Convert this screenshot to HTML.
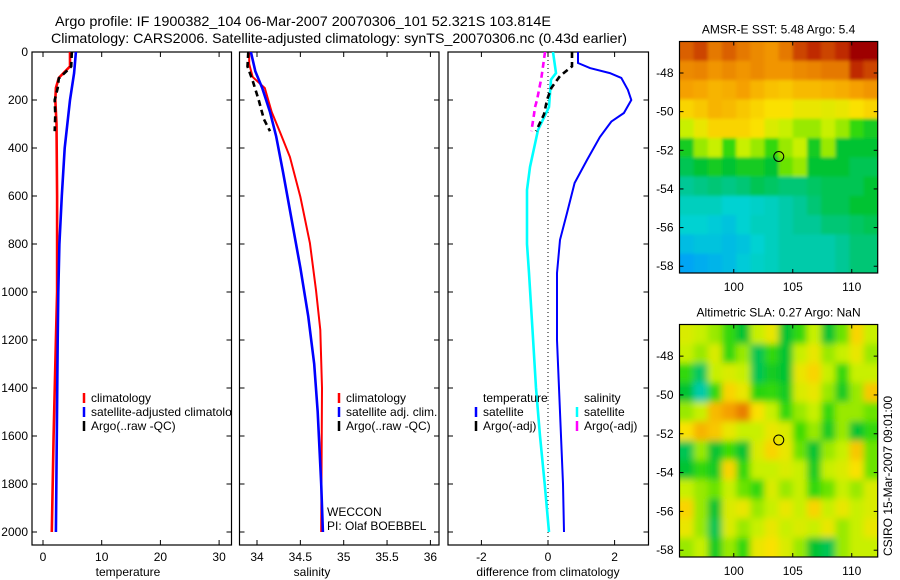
<!DOCTYPE html>
<html><head><meta charset="utf-8"><style>
body{margin:0;background:#fff}
svg{display:block;font-family:"Liberation Sans",Arial,sans-serif}
text{fill:#000}
</style></head><body>
<svg id="fig" width="900" height="580" viewBox="0 0 900 580" xmlns="http://www.w3.org/2000/svg">
<text x="55" y="26" font-size="14" textLength="496" lengthAdjust="spacingAndGlyphs">Argo profile: IF 1900382_104 06-Mar-2007 20070306_101 52.321S 103.814E</text>
<text x="51" y="43" font-size="14" textLength="576" lengthAdjust="spacingAndGlyphs">Climatology: CARS2006. Satellite-adjusted climatology: synTS_20070306.nc (0.43d earlier)</text>
<g id="panels"></g>
<defs>
<clipPath id="cp1"><rect x="32" y="52" width="199.5" height="493"/></clipPath>
<clipPath id="cp2"><rect x="239.5" y="52" width="199.5" height="493"/></clipPath>
<clipPath id="cp3"><rect x="448" y="52" width="200.5" height="493"/></clipPath>
<filter id="blur2" filterUnits="userSpaceOnUse" x="600" y="300" width="300" height="280"><feGaussianBlur stdDeviation="3.5"/></filter>
<filter id="blur1" filterUnits="userSpaceOnUse" x="600" y="0" width="300" height="300"><feGaussianBlur stdDeviation="1.5"/></filter>
<clipPath id="cpm1"><rect x="679.5" y="41.5" width="198.2" height="231.5"/></clipPath>
<clipPath id="cpm2"><rect x="679.5" y="324.5" width="198.2" height="232.5"/></clipPath>
</defs>
</svg>
<script>
// ---------- data ----------
const tempClimDepth = [0,60,108,150,200,300,600,1000,1200,1600,2000];
const tempClimVal   = [4.6,4.6,2.7,2.2,2.1,2.3,2.4,2.4,2.2,1.8,1.5];
const tempSatDepth  = [0,88,200,400,600,800,1000,1200,1600,2000];
const tempSatVal    = [5.6,5.3,4.6,3.7,3.2,2.8,2.6,2.5,2.35,2.2];
const tempArgoDepth = [0,60,80,110,150,200,260,330];
const tempArgoVal   = [4.9,4.8,4.0,2.7,2.5,2.0,2.1,2.0];

const salClimDepth = [0,50,104,150,250,338,437,604,796,992,1158,1400,2000];
const salClimVal   = [33.91,33.91,33.95,34.09,34.17,34.27,34.38,34.5,34.61,34.68,34.73,34.75,34.74];
const salSatDepth  = [0,80,150,250,350,500,700,900,1100,1300,1500,1800,2000];
const salSatVal    = [33.93,33.98,34.06,34.15,34.22,34.3,34.4,34.5,34.59,34.66,34.7,34.74,34.76];
const salArgoDepth = [0,60,120,200,280,330];
const salArgoVal   = [33.9,33.89,33.95,34.02,34.08,34.15];

const dTempSatDepth = [0,46,67,88,108,158,200,254,290,354,450,546,671,783,921,1200,1800,2000];
const dTempSatVal   = [0.9,0.9,1.26,1.86,2.2,2.4,2.5,2.28,1.9,1.56,1.17,0.8,0.57,0.36,0.27,0.27,0.45,0.48];
const dSalSatDepth  = [0,88,115,229,325,479,575,800,921,1192,1400,1600,1800,2000];
const dSalSatVal    = [0.15,0.24,0.09,0.03,-0.3,-0.54,-0.63,-0.63,-0.57,-0.45,-0.36,-0.24,-0.1,0.03];
const dTempArgoDepth = [0,60,100,150,200,260,330];
const dTempArgoVal   = [0.72,0.72,0.36,0.1,-0.03,-0.12,-0.36];
const dSalArgoDepth  = [0,60,110,200,230,260,330];
const dSalArgoVal    = [-0.09,-0.15,-0.2,-0.33,-0.39,-0.42,-0.5];

const depthTicks = [0,200,400,600,800,1000,1200,1400,1600,1800,2000];
const tempTicks = [0,10,20,30];
const salTicks = [34,34.5,35,35.5,36];
const salTickLabels = ["34","34.5","35","35.5","36"];
const diffTicks = [-2,0,2];
const lonTicks = [100,105,110];
const latTicks = [-48,-50,-52,-54,-56,-58];

// SST map values (0..1 colormap index), rows north->south
const sstGrid = [
[0.88,0.9,0.85,0.88,0.85,0.82,0.8,0.85,0.9,0.92,0.9,0.92,0.97,0.97],
[0.82,0.83,0.8,0.82,0.8,0.82,0.8,0.8,0.82,0.83,0.85,0.85,0.92,0.9],
[0.78,0.77,0.75,0.76,0.78,0.75,0.73,0.72,0.74,0.74,0.75,0.76,0.78,0.8],
[0.7,0.72,0.75,0.74,0.72,0.7,0.68,0.68,0.66,0.66,0.65,0.66,0.68,0.7],
[0.62,0.66,0.7,0.7,0.7,0.68,0.64,0.62,0.6,0.6,0.62,0.6,0.55,0.52],
[0.52,0.6,0.62,0.55,0.62,0.6,0.55,0.6,0.62,0.52,0.6,0.5,0.5,0.5],
[0.48,0.5,0.52,0.5,0.52,0.52,0.5,0.58,0.6,0.5,0.5,0.5,0.48,0.48],
[0.44,0.45,0.46,0.45,0.46,0.48,0.47,0.46,0.46,0.47,0.48,0.48,0.48,0.5],
[0.4,0.4,0.4,0.38,0.38,0.39,0.4,0.42,0.44,0.46,0.48,0.48,0.5,0.5],
[0.38,0.38,0.37,0.36,0.38,0.4,0.4,0.42,0.44,0.44,0.46,0.46,0.47,0.48],
[0.35,0.36,0.36,0.35,0.36,0.38,0.4,0.42,0.42,0.42,0.42,0.44,0.46,0.46],
[0.32,0.33,0.34,0.35,0.37,0.39,0.4,0.42,0.42,0.42,0.42,0.44,0.46,0.46]];
const slaGrid = [
[0.64,0.62,0.6,0.55,0.5,0.62,0.66,0.5,0.55,0.62,0.5,0.58,0.7,0.62],
[0.62,0.6,0.64,0.55,0.6,0.48,0.55,0.5,0.62,0.66,0.6,0.62,0.66,0.6],
[0.55,0.47,0.62,0.64,0.62,0.48,0.52,0.5,0.66,0.7,0.62,0.55,0.62,0.62],
[0.5,0.42,0.55,0.7,0.66,0.54,0.55,0.52,0.64,0.66,0.6,0.52,0.6,0.72],
[0.6,0.62,0.74,0.78,0.84,0.68,0.62,0.55,0.6,0.62,0.55,0.6,0.6,0.58],
[0.68,0.75,0.72,0.66,0.62,0.62,0.66,0.64,0.56,0.6,0.52,0.6,0.5,0.55],
[0.48,0.6,0.5,0.56,0.5,0.64,0.7,0.66,0.58,0.5,0.6,0.62,0.72,0.58],
[0.5,0.55,0.52,0.7,0.55,0.62,0.62,0.64,0.62,0.52,0.62,0.64,0.68,0.58],
[0.62,0.6,0.58,0.62,0.58,0.55,0.64,0.6,0.62,0.55,0.58,0.62,0.6,0.64],
[0.7,0.6,0.5,0.64,0.66,0.6,0.62,0.66,0.62,0.7,0.62,0.66,0.62,0.64],
[0.66,0.6,0.48,0.64,0.6,0.62,0.66,0.62,0.64,0.62,0.66,0.6,0.62,0.66],
[0.6,0.62,0.52,0.6,0.55,0.66,0.68,0.64,0.6,0.5,0.48,0.6,0.62,0.62]];
const argoLon = 103.814, argoLat = -52.321;

// ---------- helpers ----------
const NS="http://www.w3.org/2000/svg";
const root=document.getElementById('panels');
function mk(tag,attrs,parent){const e=document.createElementNS(NS,tag);for(const k in attrs)e.setAttribute(k,attrs[k]);(parent||root).appendChild(e);return e;}
const Y0=52, YB=545;
const yD = d => Y0 + d*0.24;
const panels=[
 {x0:32,x1:231.5,xs:v=>43+v*5.87,cp:'cp1'},
 {x0:239.5,x1:439,xs:v=>257+(v-34)*86.7,cp:'cp2'},
 {x0:448,x1:648.5,xs:v=>548+v*33.3,cp:'cp3'}];

function line(p,depths,vals,color,dash,name,w){
  const pts=depths.map((d,i)=>p.xs(vals[i]).toFixed(1)+','+yD(d).toFixed(1)).join(' ');
  const el=mk('polyline',{points:pts,fill:'none',stroke:color,'stroke-width':w||2.6,'clip-path':'url(#'+p.cp+')'});
  if(dash) el.setAttribute('stroke-dasharray',dash);
  
  
}
function txt(x,y,s,size,anchor,name,extra){
  const t=mk('text',Object.assign({x:x,y:y,'font-size':size||12,'text-anchor':anchor||'start'},extra||{}));
  t.textContent=s;
  
  
  return t;
}

panels.forEach((p,pi)=>{
  const r=mk('rect',{x:p.x0,y:Y0,width:p.x1-p.x0,height:YB-Y0,fill:'#fff',stroke:'#000','stroke-width':1.2});
  
  
  depthTicks.forEach(d=>{
    mk('line',{x1:p.x0,x2:p.x0+5,y1:yD(d),y2:yD(d),stroke:'#000'});
    mk('line',{x1:p.x1,x2:p.x1-5,y1:yD(d),y2:yD(d),stroke:'#000'});
  });
});
depthTicks.forEach(d=>{ txt(28,yD(d)+4,String(d),12,'end','depth-tick-label'); });
const xtickSets=[tempTicks,salTicks,diffTicks];
const xtickLabels=[tempTicks.map(String),salTickLabels,diffTicks.map(String)];
panels.forEach((p,pi)=>{
  xtickSets[pi].forEach((v,i)=>{
    const x=p.xs(v);
    mk('line',{x1:x,x2:x,y1:YB,y2:YB-5,stroke:'#000'});
    mk('line',{x1:x,x2:x,y1:Y0,y2:Y0+5,stroke:'#000'});
    txt(x,561,xtickLabels[pi][i],12,'middle','x-tick-label');
  });
});
txt(128,576,'temperature',12,'middle','x-axis-title-temperature');
txt(312,576,'salinity',12,'middle','x-axis-title-salinity');
txt(548,576,'difference from climatology',12,'middle','x-axis-title-difference');

{const z=mk('line',{x1:panels[2].xs(0),x2:panels[2].xs(0),y1:Y0,y2:YB,stroke:'#000','stroke-dasharray':'1,3'});

}

line(panels[0],tempClimDepth,tempClimVal,'#ff0000',null,'temp-climatology-line');
line(panels[0],tempSatDepth,tempSatVal,'#0000ff',null,'temp-satellite-line');
line(panels[0],tempArgoDepth,tempArgoVal,'#000',"6,4",'temp-argo-line');
line(panels[1],salClimDepth,salClimVal,'#ff0000',null,'sal-climatology-line',2);
line(panels[1],salSatDepth,salSatVal,'#0000ff',null,'sal-satellite-line');
line(panels[1],salArgoDepth,salArgoVal,'#000',"6,4",'sal-argo-line');
line(panels[2],dSalSatDepth,dSalSatVal,'#00ffff',null,'diff-sal-satellite-line');
line(panels[2],dTempSatDepth,dTempSatVal,'#0000ff',null,'diff-temp-satellite-line',2);
line(panels[2],dTempArgoDepth,dTempArgoVal,'#000',"6,4",'diff-temp-argo-line');
line(panels[2],dSalArgoDepth,dSalArgoVal,'#ff00ff',"6,4",'diff-sal-argo-line');

function leg(x,y,color,label,name,clip){
  const l=mk('line',{x1:x,x2:x,y1:y-9,y2:y+1,stroke:color,'stroke-width':2.5});
  
  
  txt(x+7,y,label,12,'start',name,clip?{'clip-path':'url(#'+clip+')'}:{});
}
leg(84,402,'#ff0000','climatology','legend-temp-climatology','cp1');
leg(84,416,'#0000ff','satellite-adjusted climatology','legend-temp-satellite','cp1');
leg(84,430,'#000','Argo(..raw -QC)','legend-temp-argo','cp1');
leg(339,402,'#ff0000','climatology','legend-sal-climatology');
leg(339,416,'#0000ff','satellite adj. clim.','legend-sal-satellite');
leg(339,430,'#000','Argo(..raw -QC)','legend-sal-argo');
txt(483,402,'temperature',12,'start','legend-header-temperature');
txt(584,402,'salinity',12,'start','legend-header-salinity');
leg(476,416,'#0000ff','satellite','legend-diff-temp-satellite');
leg(476,430,'#000','Argo(-adj)','legend-diff-temp-argo');
leg(577,416,'#00ffff','satellite','legend-diff-sal-satellite');
leg(577,430,'#ff00ff','Argo(-adj)','legend-diff-sal-argo');
txt(327,516,'WECCON',12,'start','weccon-label');
txt(327,530,'PI: Olaf BOEBBEL',12,'start','pi-label');

// ---------- maps ----------
const stops=[[0,[0,100,255]],[0.3,[0,150,255]],[0.38,[0,210,210]],[0.44,[0,200,150]],[0.5,[0,195,50]],[0.56,[60,220,0]],[0.62,[200,240,0]],[0.68,[250,225,0]],[0.78,[245,160,0]],[0.87,[225,110,0]],[0.95,[170,0,0]],[1,[140,0,0]]];
function cmap(v){
  for(let i=1;i<stops.length;i++){ if(v<=stops[i][0]){const a=stops[i-1],b=stops[i];const t=(v-a[0])/(b[0]-a[0]);
    return 'rgb('+a[1].map((c,k)=>Math.round(c+(b[1][k]-c)*t)).join(',')+')';}}
  return 'rgb(140,0,0)';
}
const LON0=95.4,LON1=112.2,LAT0=-46.37,LAT1=-58.35;
function drawMap(y0,h,grid,title,clip,filt,name){
  const x0=679.5,w=198.2,pad=10;
  const xl=lon=>x0+(lon-LON0)/(LON1-LON0)*w;
  const yl=lat=>y0+(lat-LAT0)/(LAT1-LAT0)*h;
  const g=mk('g',{'clip-path':'url(#'+clip+')'});
  
  
  const inner=mk('g',{filter:'url(#'+filt+')'},g);
  const nr=grid.length,nc=grid[0].length;
  const cw=w/nc,ch=h/nr;
  grid.forEach((row,r)=>row.forEach((v,c)=>{
    let x=x0+c*cw,y=y0+r*ch,ww=cw+0.6,hh=ch+0.6;
    if(c===0){x-=pad;ww+=pad;} if(c===nc-1){ww+=pad;}
    if(r===0){y-=pad;hh+=pad;} if(r===nr-1){hh+=pad;}
    const cell=mk('rect',{x:x.toFixed(2),y:y.toFixed(2),width:ww.toFixed(2),height:hh.toFixed(2),fill:cmap(v)},inner);
    
    
  }));
  const fr=mk('rect',{x:x0,y:y0,width:w,height:h,fill:'none',stroke:'#000','stroke-width':1.2});
  
  
  lonTicks.forEach(l=>{const x=xl(l);mk('line',{x1:x,x2:x,y1:y0+h,y2:y0+h-4,stroke:'#000'});mk('line',{x1:x,x2:x,y1:y0,y2:y0+4,stroke:'#000'});
    txt(x,y0+h+18,String(l),12,'middle',name+'-lon-tick-label');});
  latTicks.forEach(l=>{const y=yl(l);mk('line',{x1:x0,x2:x0+4,y1:y,y2:y,stroke:'#000'});mk('line',{x1:x0+w,x2:x0+w-4,y1:y,y2:y,stroke:'#000'});
    txt(x0-6,y+4,String(l),12,'end',name+'-lat-tick-label');});
  const c=mk('circle',{cx:xl(argoLon),cy:yl(argoLat),r:5,fill:'none',stroke:'#000','stroke-width':1});
  
  
  txt(x0+w/2,y0-8,title,12,'middle',name+'-title');
}
drawMap(41.5,231.5,sstGrid,'AMSR-E SST: 5.48 Argo: 5.4','cpm1','blur1','sst-map');
drawMap(324.5,232.5,slaGrid,'Altimetric SLA: 0.27 Argo: NaN','cpm2','blur2','sla-map');
txt(0,0,'CSIRO 15-Mar-2007 09:01:00',12,'start','csiro-timestamp',{transform:'translate(892,556) rotate(-90)'});
</script>
</body></html>
